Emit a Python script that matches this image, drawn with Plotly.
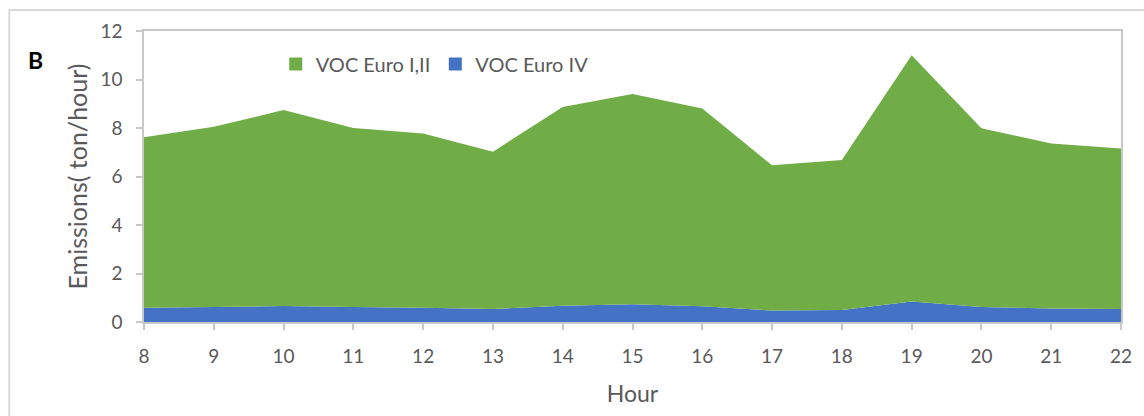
import plotly.graph_objects as go

hours = [8, 9, 10, 11, 12, 13, 14, 15, 16, 17, 18, 19, 20, 21, 22]
voc_euro_iv = [0.59, 0.62, 0.66, 0.62, 0.59, 0.54, 0.67, 0.73, 0.65, 0.47, 0.49, 0.85, 0.62, 0.56, 0.54]
voc_euro_i_ii = [7.03, 7.43, 8.08, 7.38, 7.18, 6.48, 8.20, 8.67, 8.15, 5.99, 6.19, 10.15, 7.37, 6.80, 6.61]
y_ticks = [0, 2, 4, 6, 8, 10, 12]

GREEN = "#70AD47"
BLUE = "#4472C4"
FONT = "Lato"
GRAY = "#595959"

fig = go.Figure()
fig.add_trace(go.Scatter(
    x=hours, y=voc_euro_iv, name="VOC Euro IV", stackgroup="one",
    mode="none", fillcolor=BLUE, line=dict(width=0), showlegend=False,
    legendgroup="iv",
))
fig.add_trace(go.Scatter(
    x=hours, y=voc_euro_i_ii, name="VOC Euro I,II", stackgroup="one",
    mode="none", fillcolor=GREEN, line=dict(width=0), showlegend=False,
    legendgroup="i_ii",
))
# legend entries (square swatches like the original)
fig.add_trace(go.Scatter(
    x=[None], y=[None], name="VOC Euro I,II", mode="markers", legendgroup="i_ii",
    marker=dict(symbol="square", size=13, color=GREEN), legendrank=1,
))
fig.add_trace(go.Scatter(
    x=[None], y=[None], name="VOC Euro IV", mode="markers", legendgroup="iv",
    marker=dict(symbol="square", size=13, color=BLUE), legendrank=2,
))

L, R, T, B = 144, 21, 31, 94
W, H = 1144, 416
pw, ph = W - L - R, H - T - B

def px(x):
    return (x - L) / pw

def py(y):
    return (H - B - y) / ph

fig.update_layout(
    width=W, height=H,
    margin=dict(l=L, r=R, t=T, b=B),
    paper_bgcolor="white", plot_bgcolor="white",
    font=dict(family=FONT, size=18, color=GRAY),
    showlegend=True,
    legend=dict(
        orientation="h", x=px(276), y=py(64), xanchor="left", yanchor="middle",
        font=dict(family=FONT, size=20, color=GRAY), bgcolor="rgba(0,0,0,0)",
        traceorder="normal", itemclick=False, itemdoubleclick=False,
    ),
    xaxis=dict(
        range=[8, 22], tickmode="array", tickvals=hours, ticktext=[str(h) for h in hours],
        showgrid=False, zeroline=False,
        showline=True, linecolor="#C8C8C8", linewidth=1.5, mirror=True,
        ticks="outside", ticklen=6, tickcolor="#C8C8C8", tickwidth=1.5,
        ticklabelstandoff=10,
        tickfont=dict(family=FONT, size=19, color=GRAY),
        title=dict(text="Hour", font=dict(family=FONT, size=23, color=GRAY), standoff=20),
    ),
    yaxis=dict(
        range=[0, 12], tickmode="array", tickvals=y_ticks,
        showgrid=False, zeroline=False,
        showline=True, linecolor="#C8C8C8", linewidth=1.5, mirror=True,
        ticks="outside", ticklen=6, tickcolor="#C8C8C8", tickwidth=1.5,
        ticklabelstandoff=10,
        tickfont=dict(family=FONT, size=19, color=GRAY),
        title=dict(text="Emissions( ton/hour)", font=dict(family=FONT, size=25, color=GRAY), standoff=6),
    ),
    shapes=[
        dict(type="rect", xref="paper", yref="paper",
             x0=px(9), x1=px(W + 20), y0=py(H + 20), y1=py(10),
             line=dict(color="#D9D9D9", width=2), fillcolor="rgba(0,0,0,0)", layer="below"),
    ],
    annotations=[
        dict(text="<b>B</b>", xref="paper", yref="paper", x=px(35), y=py(60),
             xanchor="center", yanchor="middle", showarrow=False,
             font=dict(family=FONT, size=23, color="black")),
    ],
)

fig.write_html("out.html", config={"displayModeBar": False},
               post_script="document.body.style.margin='0';")
